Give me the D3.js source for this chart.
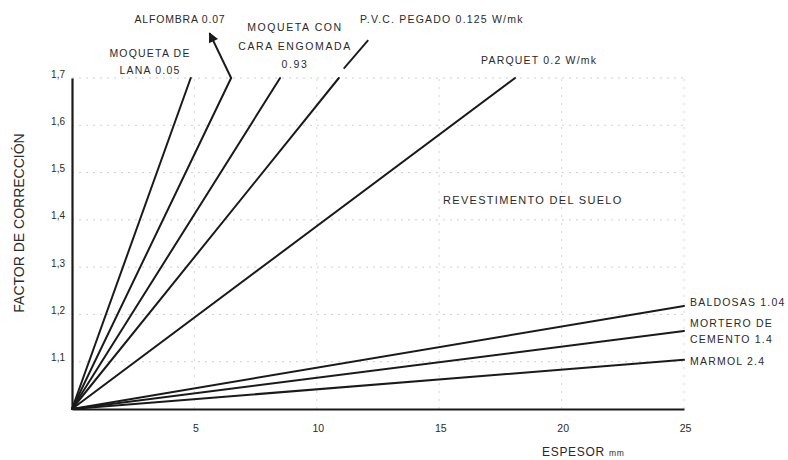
<!DOCTYPE html>
<html>
<head>
<meta charset="utf-8">
<script src="https://cdn.jsdelivr.net/npm/d3@7"></script>
<style>
  body { margin: 0; background: #fff; }
  svg text { font-family: "Liberation Sans", Arial, sans-serif; fill: #2a2a2a; }
</style>
</head>
<body>
<div id="main"></div>
<script>
// datos
var materiales = ["MOQUETA DE LANA 0.05", "ALFOMBRA 0.07", "MOQUETA CON CARA ENGOMADA 0.93",
  "P.V.C. PEGADO 0.125", "PARQUET 0.2", "BALDOSAS 1.04", "MORTERO DE CEMENTO 1.4", "MARMOL 2.4"];
var espesorFinal = [4.85, 6.5, 8.5, 10.9, 18.1, 25, 25, 25];
var factorFinal = [1.7, 1.7, 1.7, 1.7, 1.7, 1.218, 1.165, 1.104];
var xTicks = [5, 10, 15, 20, 25];
var yTicks = [1.1, 1.2, 1.3, 1.4, 1.5, 1.6, 1.7];

var svg = d3.select("#main").append("svg")
  .attr("width", 788)
  .attr("height", 460);

var x = d3.scaleLinear().domain([0, 25]).range([72, 684]);
var y = d3.scaleLinear().domain([1.0, 1.7]).range([409, 78]);

// rejilla punteada
svg.append("g").selectAll("line").data(yTicks).enter().append("line")
  .attr("x1", x(0)).attr("x2", x(25))
  .attr("y1", function(d) { return y(d); }).attr("y2", function(d) { return y(d); })
  .attr("stroke", "#cfcfcf").attr("stroke-width", 1).attr("stroke-dasharray", "2,5");
svg.append("g").selectAll("line").data(xTicks).enter().append("line")
  .attr("x1", function(d) { return x(d); }).attr("x2", function(d) { return x(d); })
  .attr("y1", y(1.0)).attr("y2", y(1.7))
  .attr("stroke", "#d6d6d6").attr("stroke-width", 1).attr("stroke-dasharray", "2,6");

// ejes
var yAxis = d3.axisLeft(y).tickValues(yTicks).tickSize(0).tickPadding(7)
  .tickFormat(function(d) { return d3.format(".1f")(d).replace(".", ","); });
var gy = svg.append("g").attr("transform", "translate(" + x(0) + ",0)").call(yAxis);
gy.select(".domain").attr("stroke", "#1a1a1a").attr("stroke-width", 2.2);
gy.selectAll("text").style("font-size", "10px").attr("dy", "-0.1em");

var xAxis = d3.axisBottom(x).tickValues(xTicks).tickSize(0).tickPadding(16);
var gx = svg.append("g").attr("transform", "translate(0," + y(1.0) + ")").call(xAxis);
gx.select(".domain").attr("stroke", "#1a1a1a").attr("stroke-width", 2.2);
gx.selectAll("text").style("font-size", "10.5px").attr("dx", "0.1em");

// rectas de cada revestimiento
svg.append("g").selectAll("line").data(materiales).enter().append("line")
  .attr("x1", x(0)).attr("y1", y(1.0))
  .attr("x2", function(d, i) { return x(espesorFinal[i]); })
  .attr("y2", function(d, i) { return y(factorFinal[i]); })
  .attr("stroke", "#1a1a1a").attr("stroke-width", 2).attr("stroke-linecap", "round");

// flecha de alfombra y guia del PVC
svg.append("defs").append("marker")
  .attr("id", "flecha").attr("viewBox", "0 0 10 10").attr("refX", 9).attr("refY", 5)
  .attr("markerWidth", 6).attr("markerHeight", 5).attr("orient", "auto")
  .append("path").attr("d", "M0,0 L10,5 L0,10 z").attr("fill", "#1a1a1a");
svg.append("line")
  .attr("x1", x(6.5)).attr("y1", y(1.7))
  .attr("x2", x(5.62)).attr("y2", y(1.795))
  .attr("stroke", "#1a1a1a").attr("stroke-width", 2).attr("marker-end", "url(#flecha)");
svg.append("line")
  .attr("x1", x(11.1)).attr("y1", y(1.72))
  .attr("x2", x(12.1)).attr("y2", y(1.78))
  .attr("stroke", "#1a1a1a").attr("stroke-width", 1.9);

// etiquetas
var etiquetas = [
  { t: ["ALFOMBRA 0.07"], px: 180, py: 23, a: "middle", ls: 0.8 },
  { t: ["MOQUETA DE", "LANA 0.05"], px: 150, py: 57, a: "middle", ls: 1.2, sp: 17 },
  { t: ["MOQUETA CON", "CARA ENGOMADA", "0.93"], px: 295, py: 31, a: "middle", ls: 1.6, sp: 18.5 },
  { t: ["P.V.C. PEGADO 0.125 W/mk"], px: 360, py: 23, a: "start", ls: 1.2 },
  { t: ["PARQUET 0.2 W/mk"], px: 481, py: 64, a: "start", ls: 1.2 },
  { t: ["REVESTIMENTO DEL SUELO"], px: 443, py: 204, a: "start", ls: 1.3, fs: 11 },
  { t: ["BALDOSAS 1.04"], px: 690, py: 306, a: "start", ls: 1.2 },
  { t: ["MORTERO DE", "CEMENTO 1.4"], px: 690, py: 327, a: "start", ls: 1.2, sp: 15.5 },
  { t: ["MARMOL 2.4"], px: 690, py: 365, a: "start", ls: 1.2 }
];
etiquetas.forEach(function(e) {
  var txt = svg.append("text").attr("x", e.px).attr("y", e.py)
    .attr("text-anchor", e.a)
    .style("font-size", (e.fs || 10.5) + "px")
    .style("letter-spacing", e.ls + "px");
  e.t.forEach(function(linea, k) {
    txt.append("tspan").attr("x", e.px).attr("dy", k === 0 ? 0 : e.sp).text(linea);
  });
});

// titulos de ejes
svg.append("text")
  .attr("transform", "translate(24,223) rotate(-90)")
  .attr("text-anchor", "middle")
  .style("font-size", "14px")
  .text("FACTOR DE CORRECCIÓN");

var tx = svg.append("text").attr("x", 542).attr("y", 456).attr("text-anchor", "start")
  .style("font-size", "12px").style("letter-spacing", "0.7px");
tx.append("tspan").text("ESPESOR ");
tx.append("tspan").style("font-size", "8.5px").text("mm");
</script>
</body>
</html>
